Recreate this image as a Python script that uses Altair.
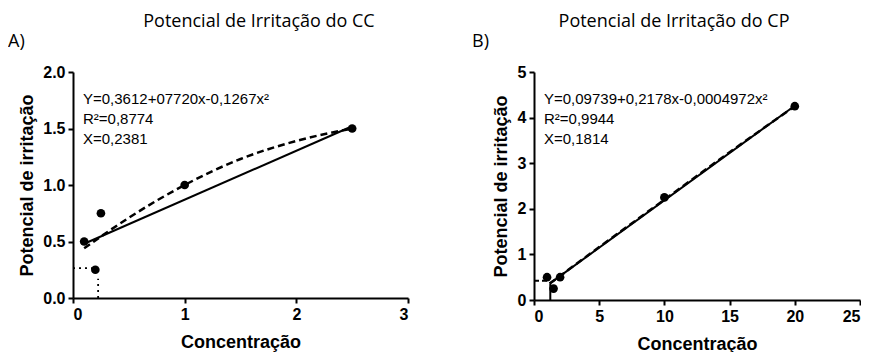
import altair as alt
import pandas as pd

# ---------------- Panel A data (CC) ----------------
a_conc = [0.1, 0.2, 0.25, 1.0, 2.5]
a_pot = [0.5, 0.25, 0.75, 1.0, 1.5]
a_lin_x = [0.1, 2.5]
a_lin_y = [0.48, 1.52]
a_quad_x = [0.1, 0.5, 1.0, 1.5, 2.0, 2.5]
a_quad_y = [0.44, 0.71, 1.0, 1.23, 1.39, 1.50]
a_hdot_x = [0.0, 0.17]
a_hdot_y = [0.265, 0.265]
a_vdot_x = [0.225, 0.225]
a_vdot_y = [0.0, 0.17]
a_xticks = [0, 1, 2, 3]
a_yticks = [0.0, 0.5, 1.0, 1.5, 2.0]
a_title = "Potencial de Irritação do CC"
a_label = "A)"
a_eq = ["Y=0,3612+07720x-0,1267x²", "R²=0,8774", "X=0,2381"]

# ---------------- Panel B data (CP) ----------------
b_conc = [1.0, 1.5, 2.0, 10.0, 20.0]
b_pot = [0.5, 0.25, 0.5, 2.25, 4.25]
b_lin_x = [1.2, 20.0]
b_lin_y = [0.36, 4.26]
b_quad_x = [1.2, 5.0, 10.0, 15.0, 20.0]
b_quad_y = [0.36, 1.16, 2.20, 3.24, 4.25]
b_hdash_x = [0.0, 1.0]
b_hdash_y = [0.42, 0.42]
b_vline_x = [1.25, 1.25]
b_vline_y = [0.0, 0.35]
b_xticks = [0, 5, 10, 15, 20, 25]
b_yticks = [0, 1, 2, 3, 4, 5]
b_title = "Potencial de Irritação do CP"
b_label = "B)"
b_eq = ["Y=0,09739+0,2178x-0,0004972x²", "R²=0,9944", "X=0,1814"]

XT = "Concentração"
YT = "Potencial de irritação"


def panel(conc, pot, lin_x, lin_y, quad_x, quad_y, aux, xdom, ydom, xticks, yticks,
          yfmt, title, label, label_x, eq, w, h, title_cx, ytp):
    xs = alt.Scale(domain=xdom, nice=False, zero=False)
    ys = alt.Scale(domain=ydom, nice=False, zero=False)
    xax = alt.Axis(values=xticks, format="d", title=XT, titlePadding=11)
    yax = alt.Axis(values=yticks, format=yfmt, title=YT, titlePadding=ytp)

    pts = alt.Chart(pd.DataFrame({"x": conc, "y": pot})).mark_circle(
        size=75, color="black", opacity=1
    ).encode(x=alt.X("x:Q", scale=xs, axis=xax), y=alt.Y("y:Q", scale=ys, axis=yax))

    lin = alt.Chart(pd.DataFrame({"x": lin_x, "y": lin_y})).mark_line(
        color="black", strokeWidth=2
    ).encode(x=alt.X("x:Q", scale=xs), y=alt.Y("y:Q", scale=ys))

    quad = alt.Chart(pd.DataFrame({"x": quad_x, "y": quad_y})).mark_line(
        color="black", strokeWidth=2.5, strokeDash=[7, 4], interpolate="monotone"
    ).encode(x=alt.X("x:Q", scale=xs), y=alt.Y("y:Q", scale=ys))

    layers = [lin, quad]
    for (ax, ay, dash, sw) in aux:
        layers.append(
            alt.Chart(pd.DataFrame({"x": ax, "y": ay})).mark_line(
                color="black", strokeWidth=sw, strokeDash=dash
            ).encode(x=alt.X("x:Q", scale=xs), y=alt.Y("y:Q", scale=ys))
        )
    layers.append(pts)

    ttl = alt.Chart(pd.DataFrame({"t": [title]})).mark_text(
        font="Open Sans", fontSize=18, color="black", align="center", baseline="alphabetic"
    ).encode(text="t:N", x=alt.value(title_cx), y=alt.value(-45))
    lab = alt.Chart(pd.DataFrame({"t": [label]})).mark_text(
        font="Open Sans", fontSize=18, color="black", align="left", baseline="alphabetic"
    ).encode(text="t:N", x=alt.value(label_x), y=alt.value(-25))
    eqs = []
    for i, line in enumerate(eq):
        eqs.append(
            alt.Chart(pd.DataFrame({"t": [line]})).mark_text(
                font="Liberation Sans", fontSize=15, color="black", align="left",
                baseline="alphabetic"
            ).encode(text="t:N", x=alt.value(10), y=alt.value(32 + i * 20))
        )
    return alt.layer(*layers, ttl, lab, *eqs).properties(width=w, height=h)


chart_a = panel(
    a_conc, a_pot, a_lin_x, a_lin_y, a_quad_x, a_quad_y,
    [(a_hdot_x, a_hdot_y, [2, 4], 1.8), (a_vdot_x, a_vdot_y, [2, 4], 1.8)],
    [0, 3], [0, 2], a_xticks, a_yticks, ".1f", a_title, a_label, -65, a_eq, 335, 226, 186, 6,
)
chart_b = panel(
    b_conc, b_pot, b_lin_x, b_lin_y, b_quad_x, b_quad_y,
    [(b_hdash_x, b_hdash_y, [5, 3], 2), (b_vline_x, b_vline_y, [1, 0], 2)],
    [0, 25], [0, 5], b_xticks, b_yticks, "d", b_title, b_label, -62, b_eq, 326, 228, 140, 7,
)

chart = alt.hconcat(chart_a, chart_b, spacing=63).properties(
    padding={"left": 0, "top": 5, "right": 0, "bottom": 0}
).configure_view(stroke=None).configure_axis(
    grid=False,
    domainColor="black", domainWidth=2,
    tickColor="black", tickWidth=2, tickSize=5,
    labelFont="Liberation Sans", labelFontWeight="bold", labelFontSize=16,
    labelColor="black", labelPadding=3,
    titleFont="Liberation Sans", titleFontWeight="bold", titleFontSize=18,
    titleColor="black",
)

chart.save("out.html", embed_options={"renderer": "svg", "actions": False})
